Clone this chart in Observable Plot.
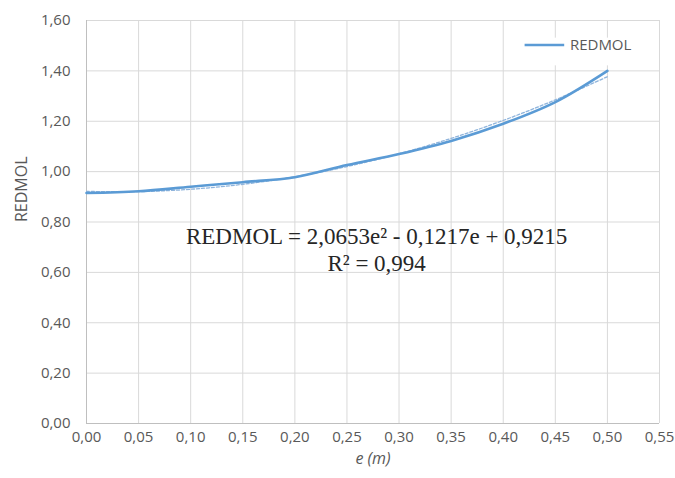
<!DOCTYPE html>
<html>
<head>
<meta charset="utf-8">
<script src="https://cdn.jsdelivr.net/npm/d3@7"></script>
<script src="https://cdn.jsdelivr.net/npm/@observablehq/plot@0.6"></script>
<style>
  html, body { margin: 0; padding: 0; background: #fff; }
  #chart { width: 675px; height: 478px; }
</style>
</head>
<body>
<div id="chart"></div>
<script>
// Data
const eValues = [0.00, 0.05, 0.10, 0.15, 0.20, 0.25, 0.30, 0.35, 0.40, 0.45, 0.50];
const redmol  = [0.915, 0.922, 0.940, 0.958, 0.978, 1.026, 1.070, 1.122, 1.190, 1.276, 1.400];
// Polynomial trend line (as displayed: 2,0653e² - 0,1217e + 0,9215)
const trend   = [0.9215, 0.9206, 0.9300, 0.9497, 0.9798, 1.0202, 1.0709, 1.1319, 1.2033, 1.2850, 1.3770];
const xTicks  = [0, 0.05, 0.10, 0.15, 0.20, 0.25, 0.30, 0.35, 0.40, 0.45, 0.50, 0.55];
const yTicks  = [0, 0.2, 0.4, 0.6, 0.8, 1.0, 1.2, 1.4, 1.6];
const seriesName = "REDMOL";
const equationText = "REDMOL = 2,0653e² - 0,1217e + 0,9215";
const r2Text = "R² = 0,994";
const xLabel = "e (m)";
const yLabel = "REDMOL";

const rows = eValues.map((e, i) => ({e, v: redmol[i], t: trend[i]}));
const fmt = d => d.toFixed(2).replace(".", ",");

const tickFont = "'Open Sans', sans-serif";
const grey = "#595959";

const plot = Plot.plot({
  width: 675,
  height: 478,
  marginLeft: 86,
  marginRight: 16,
  marginTop: 20,
  marginBottom: 55,
  style: {fontFamily: tickFont, fontSize: "15px", color: grey, background: "#fff"},
  x: {domain: [0, 0.55], ticks: xTicks, tickFormat: fmt, label: null},
  y: {domain: [0, 1.6], ticks: yTicks, tickFormat: fmt, label: null},
  marks: [
    Plot.gridX(xTicks, {stroke: "#d9d9d9", strokeOpacity: 1, strokeWidth: 1}),
    Plot.gridY(yTicks, {stroke: "#d9d9d9", strokeOpacity: 1, strokeWidth: 1}),
    Plot.ruleX([0], {stroke: "#bfbfbf"}),
    Plot.ruleY([0], {stroke: "#bfbfbf"}),
    Plot.axisX({ticks: xTicks, tickFormat: fmt, tickSize: 0, tickPadding: 8, label: null, fontSize: 15}),
    Plot.axisY({ticks: yTicks, tickFormat: fmt, tickSize: 0, tickPadding: 16, label: null, fontSize: 15}),
    Plot.line(rows, {x: "e", y: "t", stroke: "#8fb4dc", strokeWidth: 1.3, strokeDasharray: "3,2", curve: "catmull-rom"}),
    Plot.line(rows, {x: "e", y: "v", stroke: "#5b9bd5", strokeWidth: 2.6, curve: "catmull-rom"}),
    Plot.text([equationText], {x: 0.2785, y: 0.713, text: d => d, fontFamily: "'Liberation Serif', serif", fontSize: 23, fill: "#262626", lineAnchor: "bottom"}),
    Plot.text([r2Text], {x: 0.2785, y: 0.606, text: d => d, fontFamily: "'Liberation Serif', serif", fontSize: 23, fill: "#262626", lineAnchor: "bottom"}),
    Plot.text([yLabel], {frameAnchor: "left", dx: -65, rotate: -90, text: d => d, fontSize: 16, fill: grey}),
    Plot.text([xLabel], {frameAnchor: "bottom", dy: 40, text: d => d, fontSize: 16, fontStyle: "italic", fill: grey}),
    // legend
    Plot.rect([seriesName], {x1: () => 0.418, x2: () => 0.535, y1: () => 1.42, y2: () => 1.53, fill: "#fff"}),
    Plot.ruleY([seriesName], {x1: () => 0.421, x2: () => 0.459, y: () => 1.503, stroke: "#5b9bd5", strokeWidth: 2.6}),
    Plot.text([seriesName], {x: () => 0.464, y: () => 1.503, text: d => d, textAnchor: "start", fontSize: 15, fill: grey})
  ]
});
document.getElementById("chart").appendChild(plot);
</script>
</body>
</html>
